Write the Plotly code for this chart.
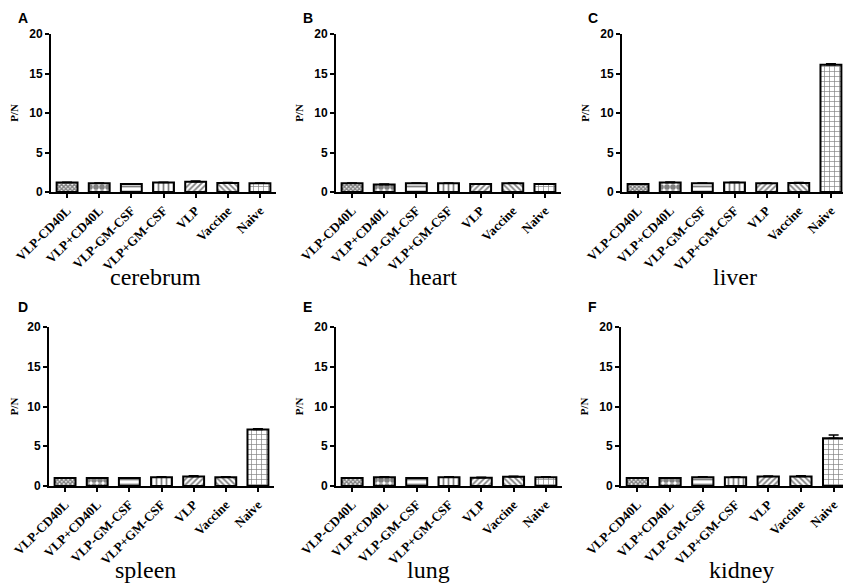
import plotly.graph_objects as go

# groupes et valeurs P/N
groupes = ["VLP-CD40L", "VLP+CD40L", "VLP-GM-CSF", "VLP+GM-CSF", "VLP", "Vaccine", "Naive"]
organes = ["cerebrum", "heart", "liver", "spleen", "lung", "kidney"]
lettres = ["A", "B", "C", "D", "E", "F"]

cerebrum = [1.2, 1.1, 1.0, 1.2, 1.3, 1.15, 1.1]
heart = [1.1, 0.95, 1.1, 1.1, 1.0, 1.1, 1.0]
liver = [1.0, 1.2, 1.1, 1.2, 1.1, 1.15, 16.1]
spleen = [1.0, 1.0, 1.0, 1.1, 1.2, 1.1, 7.1]
lung = [1.0, 1.1, 1.0, 1.1, 1.05, 1.15, 1.1]
kidney = [1.0, 1.0, 1.1, 1.1, 1.2, 1.2, 6.0]

err_cerebrum = [0.05, 0.05, 0.05, 0.05, 0.08, 0.05, 0.05]
err_heart = [0.05, 0.05, 0.05, 0.05, 0.05, 0.05, 0.05]
err_liver = [0.05, 0.08, 0.05, 0.05, 0.05, 0.05, 0.15]
err_spleen = [0.05, 0.05, 0.05, 0.05, 0.08, 0.05, 0.1]
err_lung = [0.05, 0.05, 0.05, 0.05, 0.05, 0.08, 0.05]
err_kidney = [0.05, 0.05, 0.05, 0.05, 0.05, 0.08, 0.4]

valeurs = [cerebrum, heart, liver, spleen, lung, kidney]
erreurs = [err_cerebrum, err_heart, err_liver, err_spleen, err_lung, err_kidney]

# motifs de remplissage par groupe
motifs = [
    dict(shape="x", size=3, solidity=0.7),
    dict(shape=".", size=6, solidity=0.7),
    dict(shape="-", size=5, solidity=0.35),
    dict(shape="|", size=5, solidity=0.35),
    dict(shape="/", size=4, solidity=0.45),
    dict(shape="\\", size=4, solidity=0.45),
    dict(shape="+", size=5, solidity=0.25),
]

W, H = 851, 587
OFF_X, OFF_Y = 0, 8  # décalage observé du rendu
# positions des panneaux en pixels : (x gauche, x droite, y haut, y bas)
panneaux = [
    (43, 268, 34, 192),
    (328, 553, 34, 192),
    (614, 839, 34, 192),
    (41, 266, 327, 486),
    (328, 554, 327, 486),
    (613, 842, 327, 486),
]
titres_pos = [(147, 277), (425, 277), (727, 277), (137, 570), (420, 570), (733, 570)]

def px_x(v):
    return (v - OFF_X) / W

def px_y(v):
    return 1 - (v - OFF_Y) / H

fig = go.Figure()
layout = dict(width=W, height=H, margin=dict(l=0, r=0, t=0, b=0, autoexpand=False),
              paper_bgcolor="white", plot_bgcolor="white", showlegend=False,
              annotations=[])

for i, (vals, errs) in enumerate(zip(valeurs, erreurs)):
    n = "" if i == 0 else str(i + 1)
    x0, x1, y0, y1 = panneaux[i]
    for j, g in enumerate(groupes):
        fig.add_trace(go.Bar(
            x=[g], y=[vals[j]], xaxis="x" + n, yaxis="y" + n, width=0.65,
            marker=dict(color="white", line=dict(color="black", width=2),
                        pattern=dict(fgcolor="black", bgcolor="white", **motifs[j])),
            error_y=dict(type="data", array=[errs[j]], arrayminus=[0], symmetric=False,
                         color="black", thickness=1.5, width=5),
        ))
    layout["xaxis" + n] = dict(
        domain=[px_x(x0), px_x(x1)], anchor="y" + n, type="category", automargin=False,
        categoryorder="array", categoryarray=groupes, range=[-0.5, 6.5],
        showline=True, linecolor="black", linewidth=2, ticks="outside",
        ticklen=4, tickwidth=1.5, tickcolor="black", tickangle=-45,
        tickfont=dict(family="Liberation Serif", size=13, color="black", weight="bold"),
        showgrid=False, zeroline=False, fixedrange=True,
    )
    layout["yaxis" + n] = dict(
        domain=[px_y(y1), px_y(y0)], anchor="x" + n, range=[0, 20], automargin=False,
        tickvals=[0, 5, 10, 15, 20], showline=True, linecolor="black", linewidth=2,
        ticks="outside", ticklen=4, tickwidth=1.5, tickcolor="black",
        tickfont=dict(family="Liberation Sans", size=12, color="black", weight="bold"),
        title=dict(text="P/N", standoff=8,
                   font=dict(family="Liberation Serif", size=11, color="black", weight="bold")),
        showgrid=False, zeroline=False, fixedrange=True,
    )
    # nom de l'organe sous le panneau
    tx, ty = titres_pos[i]
    layout["annotations"].append(dict(
        text=organes[i], x=px_x(tx), y=px_y(ty), xref="paper", yref="paper",
        xanchor="center", yanchor="middle", showarrow=False,
        font=dict(family="Liberation Serif", size=24, color="black")))
    # lettre du panneau
    lx = [8, 293, 578][i % 3]
    ly = 8 if i < 3 else 297
    layout["annotations"].append(dict(
        text="<b>" + lettres[i] + "</b>", x=px_x(lx), y=px_y(ly), xref="paper", yref="paper",
        xanchor="left", yanchor="top", showarrow=False,
        font=dict(family="Liberation Sans", size=14, color="black")))

fig.update_layout(**layout)
fig.write_html("out.html")
